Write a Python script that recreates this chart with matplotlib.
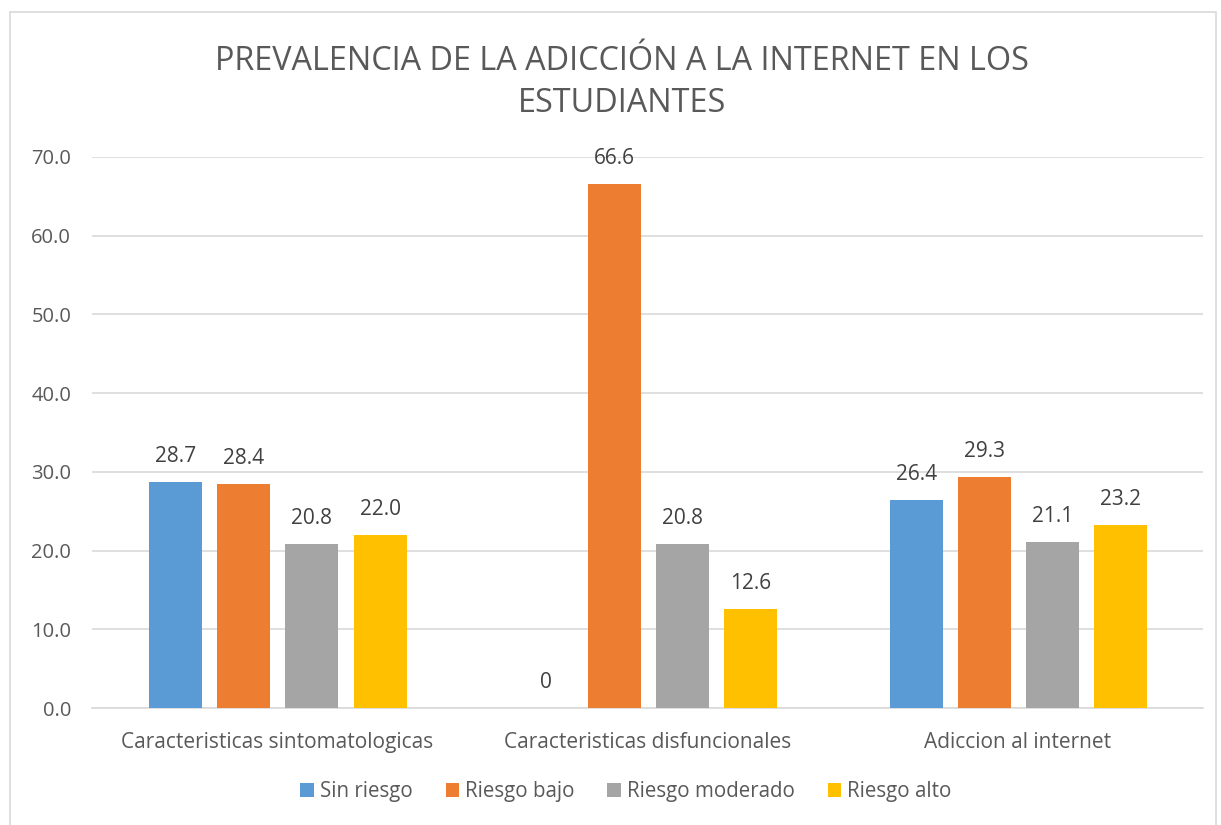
import matplotlib
matplotlib.use("Agg")
import matplotlib.pyplot as plt
import numpy as np
from matplotlib.patches import Rectangle

plt.rcParams['font.family'] = ['Open Sans', 'DejaVu Sans']

categories = ["Caracteristicas sintomatologicas", "Caracteristicas disfuncionales", "Adiccion al internet"]
series_names = ["Sin riesgo", "Riesgo bajo", "Riesgo moderado", "Riesgo alto"]
sin_riesgo = [28.7, 0, 26.4]
riesgo_bajo = [28.4, 66.6, 29.3]
riesgo_moderado = [20.8, 20.8, 21.1]
riesgo_alto = [22.0, 12.6, 23.2]
labels_sin = ["28.7", "0", "26.4"]
labels_bajo = ["28.4", "66.6", "29.3"]
labels_mod = ["20.8", "20.8", "21.1"]
labels_alto = ["22.0", "12.6", "23.2"]
colors = ["#5B9BD5", "#ED7D31", "#A5A5A5", "#FFC000"]
yticks = [0, 10, 20, 30, 40, 50, 60, 70]

values = [sin_riesgo, riesgo_bajo, riesgo_moderado, riesgo_alto]
labels = [labels_sin, labels_bajo, labels_mod, labels_alto]

fig = plt.figure(figsize=(12.21, 8.25), dpi=100)
ax = fig.add_axes([92/1221, 1 - 708/825, (1203-92)/1221, (708-157)/825])

txt = "#595959"
x = np.arange(len(categories))
width = 0.143
step = 0.184
for i, (vals, labs, col, name) in enumerate(zip(values, labels, colors, series_names)):
    pos = x + (i - 1.5) * step + 0.002
    ax.bar(pos, vals, width=width, color=col, label=name, zorder=3)
    for p, v, l in zip(pos, vals, labs):
        ax.text(p, v + 1.9, l, ha='center', va='bottom', fontsize=15, color="#404040")

ax.set_xlim(-0.5, 2.5)
ax.set_ylim(0, 70)
ax.set_yticks(yticks)
ax.set_yticklabels([f"{t:.1f}" for t in yticks], fontsize=14.5, color=txt)
ax.set_xticks(x)
ax.set_xticklabels(categories, fontsize=15, color=txt)
ax.tick_params(axis='y', length=0, pad=15)
ax.tick_params(axis='x', length=0, pad=17)
ax.yaxis.grid(True, color="#D9D9D9", linewidth=1.2, zorder=0)
ax.set_axisbelow(True)
for s in ['top', 'right', 'left']:
    ax.spines[s].set_visible(False)
ax.spines['bottom'].set_color("#D9D9D9")
ax.spines['bottom'].set_linewidth(1.2)

fig.text(622/1221, 1 - 62/825, "PREVALENCIA DE LA ADICCIÓN A LA INTERNET EN LOS", ha='center', va='center',
         fontsize=23.3, color=txt)
fig.text(622/1221, 1 - 103/825, "ESTUDIANTES", ha='center', va='center',
         fontsize=23.3, color=txt)

leg = fig.legend(loc='center', bbox_to_anchor=(626/1221, 1 - 792/825), ncol=4, frameon=False,
                 fontsize=14.8, handlelength=0.65, handleheight=0.65, handletextpad=0.3,
                 columnspacing=1.6)
for t in leg.get_texts():
    t.set_color(txt)

fig.patches.append(Rectangle((10/1221, -0.01), (1216-10)/1221, 1 - 12/825 + 0.01,
                             transform=fig.transFigure, fill=False, edgecolor="#D9D9D9", linewidth=1.2))

fig.savefig("out.png", dpi=100)
